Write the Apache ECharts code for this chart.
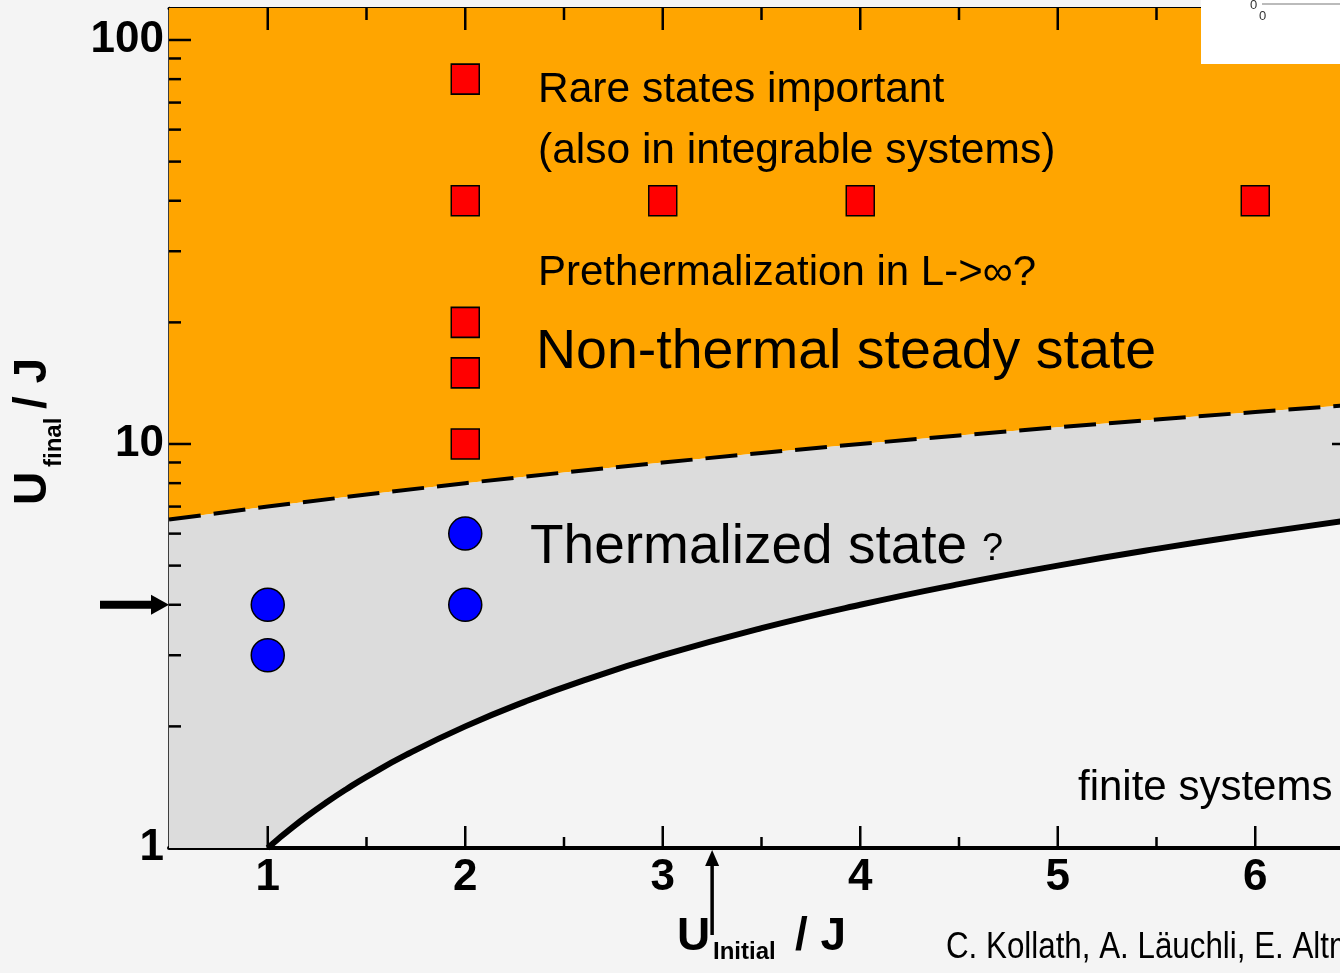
<!DOCTYPE html>
<html>
<head>
<meta charset="utf-8">
<script src="https://cdn.jsdelivr.net/npm/echarts@6/dist/echarts.min.js"></script>
<style>
html,body{margin:0;padding:0;background:#f4f4f4;}
#chart{width:1340px;height:973px;}
</style>
</head>
<body>
<div id="chart"></div>
<script>
// ---- data ----
const xRange = [0.5, 6.5];
const yRange = [1, 120];
const xTickLabels = [1, 2, 3, 4, 5, 6];
const yTickLabels = [1, 10, 100];
const xMajorTicks = [1, 2, 3, 4, 5, 6];
const xMinorTicks = [1.5, 2.5, 3.5, 4.5, 5.5, 6.5];
const yMajorTicks = [10, 100];
const yMinorTicks = [2, 3, 4, 5, 6, 7, 8, 9, 20, 30, 40, 50, 60, 70, 80, 90];
// boundary between non-thermal and thermalized (dashed)
const dashedX = [0.5, 1, 1.5, 2, 2.5, 3, 3.5, 4, 4.5, 5, 5.5, 6, 6.5];
const dashedY = [6.5, 7, 7.5, 8, 8.5, 9, 9.5, 10, 10.5, 11, 11.5, 12, 12.5];
// lower boundary (solid)
const solidX = [1, 1.05, 1.1, 1.2, 1.3, 1.4, 1.5, 1.7, 2, 2.3, 2.6, 3, 3.5, 4, 4.5, 5, 5.5, 6, 6.5];
const solidY = [1, 1.05, 1.1, 1.2, 1.3, 1.4, 1.5, 1.7, 2, 2.3, 2.6, 3, 3.5, 4, 4.5, 5, 5.5, 6, 6.5];
// non-thermal points (red squares)
const redX = [2, 2, 3, 4, 6, 2, 2, 2];
const redY = [80, 40, 40, 40, 40, 20, 15, 10];
// thermalized points (blue circles)
const blueX = [1, 1, 2, 2];
const blueY = [4, 3, 6, 4];
// arrows
const arrowY = 4;      // U_final marker
const arrowX = 3.25;   // U_initial marker

const chart = echarts.init(document.getElementById('chart'), null, {renderer: 'canvas'});

function isPow10(v) {
  const l = Math.log10(v);
  return Math.abs(l - Math.round(l)) < 1e-6 && yTickLabels.indexOf(Math.round(Math.pow(10, Math.round(l)))) >= 0;
}

function tickSeries(values, side, len) {
  return {
    type: 'custom',
    coordinateSystem: 'cartesian2d',
    silent: true,
    z: 6,
    data: values.map(v => [v]),
    renderItem: function (params, api) {
      const v = values[params.dataIndex];
      let p1, p2;
      if (side === 'left') { p1 = api.coord([xRange[0], v]); p2 = [p1[0] + len, p1[1]]; }
      else if (side === 'right') { p1 = api.coord([xRange[1], v]); p2 = [p1[0] - len, p1[1]]; }
      else if (side === 'bottom') { p1 = api.coord([v, yRange[0]]); p2 = [p1[0], p1[1] - len]; }
      else { p1 = api.coord([v, yRange[1]]); p2 = [p1[0], p1[1] + len]; }
      return {type: 'line', shape: {x1: p1[0], y1: p1[1], x2: p2[0], y2: p2[1]},
              style: {stroke: '#000', lineWidth: 2.5}};
    }
  };
}

const regionSeries = {
  type: 'custom',
  coordinateSystem: 'cartesian2d',
  silent: true,
  z: 1,
  data: [[xRange[0], yRange[0]]],
  renderItem: function (params, api) {
    const dashed = dashedX.map((x, i) => api.coord([x, dashedY[i]]));
    const solid = solidX.map((x, i) => api.coord([x, solidY[i]]));
    const orangePts = [api.coord([xRange[0], yRange[1]]), api.coord([xRange[1], yRange[1]])]
      .concat(dashed.slice().reverse());
    const grayPts = dashed.concat(solid.slice().reverse()).concat([api.coord([xRange[0], yRange[0]])]);
    return {type: 'group', children: [
      {type: 'polygon', shape: {points: orangePts}, style: {fill: '#ffa500'}},
      {type: 'polygon', shape: {points: grayPts}, style: {fill: '#dcdcdc'}}
    ]};
  }
};

const option = {
  animation: false,
  backgroundColor: '#f4f4f4',
  grid: {left: 169, top: 8, width: 1185, height: 840, outerBoundsMode: 'none', containLabel: false},
  xAxis: [{
    type: 'value', min: xRange[0], max: xRange[1], interval: 0.5,
    axisLine: {lineStyle: {color: '#000', width: 4}},
    axisTick: {show: false}, splitLine: {show: false},
    axisLabel: {
      formatter: v => (xTickLabels.indexOf(v) >= 0 ? String(v) : ''),
      color: '#000', fontSize: 44, fontWeight: 'bold', fontFamily: 'Liberation Sans', margin: 8
    }
  }, {
    type: 'value', position: 'top', min: xRange[0], max: xRange[1], interval: 0.5,
    axisLine: {lineStyle: {color: '#000', width: 3}},
    axisTick: {show: false}, splitLine: {show: false}, axisLabel: {show: false}
  }],
  yAxis: [{
    type: 'log', logBase: 10, min: yRange[0], max: yRange[1],
    axisLine: {lineStyle: {color: '#000', width: 2.5}},
    axisTick: {show: false}, splitLine: {show: false}, minorTick: {show: false},
    axisLabel: {
      formatter: v => (isPow10(v) ? String(Math.round(v)) : ''),
      color: '#000', fontSize: 44, fontWeight: 'bold', fontFamily: 'Liberation Sans', margin: 5,
      showMinLabel: true, showMaxLabel: true
    }
  }],
  series: [
    regionSeries,
    {
      type: 'line', z: 3, symbol: 'none', smooth: false,
      data: dashedX.map((x, i) => [x, dashedY[i]]),
      lineStyle: {color: '#000', width: 4, type: [32, 13]}
    },
    {
      type: 'line', z: 3, symbol: 'none', smooth: true,
      data: solidX.map((x, i) => [x, solidY[i]]),
      lineStyle: {color: '#000', width: 6}
    },
    {
      type: 'scatter', z: 5, symbol: 'rect', symbolSize: [28, 30],
      data: redX.map((x, i) => [x, redY[i]]),
      itemStyle: {color: '#ff0000', borderColor: '#000', borderWidth: 1.5, opacity: 1}
    },
    {
      type: 'scatter', z: 5, symbol: 'circle', symbolSize: 33,
      data: blueX.map((x, i) => [x, blueY[i]]),
      itemStyle: {color: '#0000ff', borderColor: '#000', borderWidth: 1.5, opacity: 1}
    },
    tickSeries(yMajorTicks, 'left', 22),
    tickSeries(yMinorTicks, 'left', 12),
    tickSeries(yMajorTicks, 'right', 22),
    tickSeries(yMinorTicks, 'right', 12),
    tickSeries(xMajorTicks, 'bottom', 22),
    tickSeries(xMinorTicks, 'bottom', 11),
    tickSeries(xMajorTicks, 'top', 22),
    tickSeries(xMinorTicks, 'top', 12)
  ]
};
chart.setOption(option);

const F = 'Liberation Sans';
const pY = chart.convertToPixel({xAxisIndex: 0, yAxisIndex: 0}, [xRange[0], arrowY]);
const pX = chart.convertToPixel({xAxisIndex: 0, yAxisIndex: 0}, [arrowX, yRange[0]]);

const graphics = [
  // inset fragment top-right
  {type: 'rect', shape: {x: 1201, y: 0, width: 139, height: 64}, style: {fill: '#ffffff'}, z: 50},
  {type: 'line', shape: {x1: 1262, y1: 4, x2: 1340, y2: 4}, style: {stroke: '#bbbbbb', lineWidth: 2}, z: 51},
  {type: 'text', style: {x: 1250, y: 5, text: '0', font: '13px ' + F, fill: '#333', textVerticalAlign: 'middle'}, z: 51},
  {type: 'text', style: {x: 1259, y: 16, text: '0', font: '13px ' + F, fill: '#333', textVerticalAlign: 'middle'}, z: 51},
  // annotations
  {type: 'text', z: 20, style: {x: 538, y: 90, text: 'Rare states important', font: '42.5px ' + F, fill: '#000', textVerticalAlign: 'middle'}},
  {type: 'text', z: 20, style: {x: 538, y: 151, text: '(also in integrable systems)', font: '42.5px ' + F, fill: '#000', textVerticalAlign: 'middle'}},
  {type: 'text', z: 20, style: {x: 538, y: 273, text: 'Prethermalization in L->∞?', font: '42px ' + F, fill: '#000', textVerticalAlign: 'middle'}},
  {type: 'text', z: 20, style: {x: 536, y: 353, text: 'Non-thermal steady state', font: '55.5px ' + F, fill: '#000', textVerticalAlign: 'middle'}},
  {type: 'text', z: 20, style: {x: 530, y: 548, text: 'Thermalized state', font: '55px ' + F, fill: '#000', textVerticalAlign: 'middle'}},
  {type: 'text', z: 20, style: {x: 982, y: 550, text: '?', font: '38px ' + F, fill: '#000', textVerticalAlign: 'middle'}},
  {type: 'text', z: 20, style: {x: 1078, y: 788, text: 'finite systems', font: '42px ' + F, fill: '#000', textVerticalAlign: 'middle'}},
  {type: 'group', x: 946, y: 948, scaleX: 0.87, z: 20, children: [
    {type: 'text', style: {x: 0, y: 0, text: 'C. Kollath, A. Läuchli, E. Altman', font: '36px ' + F, fill: '#000', textVerticalAlign: 'middle'}}
  ]},
  // x axis title
  {type: 'text', z: 20, style: {x: 677, y: 960, text: 'U', font: 'bold 46px ' + F, fill: '#000', textVerticalAlign: 'bottom'}},
  {type: 'text', z: 20, style: {x: 713, y: 940, text: 'Initial', font: 'bold 24px ' + F, fill: '#000', textVerticalAlign: 'top'}},
  {type: 'text', z: 20, style: {x: 795, y: 960, text: '/ J', font: 'bold 46px ' + F, fill: '#000', textVerticalAlign: 'bottom'}},
  // y axis title (rotated)
  {type: 'group', x: 56, y: 505, rotation: Math.PI / 2, z: 20, children: [
    {type: 'text', style: {x: 0, y: 0, text: 'U', font: 'bold 46px ' + F, fill: '#000', textVerticalAlign: 'bottom'}},
    {type: 'text', style: {x: 38, y: -14, text: 'final', font: 'bold 24px ' + F, fill: '#000', textVerticalAlign: 'top'}},
    {type: 'text', style: {x: 96, y: 0, text: '/ J', font: 'bold 46px ' + F, fill: '#000', textVerticalAlign: 'bottom'}}
  ]},
  // left arrow at U_final marker
  {type: 'line', z: 20, shape: {x1: 100, y1: pY[1], x2: pY[0] - 12, y2: pY[1]}, style: {stroke: '#000', lineWidth: 8}},
  {type: 'polygon', z: 20, shape: {points: [[pY[0] - 18, pY[1] - 10], [pY[0], pY[1]], [pY[0] - 18, pY[1] + 10]]}, style: {fill: '#000'}},
  // bottom arrow at U_initial marker
  {type: 'line', z: 20, shape: {x1: pX[0], y1: 935, x2: pX[0], y2: pX[1] + 12}, style: {stroke: '#000', lineWidth: 3.5}},
  {type: 'polygon', z: 20, shape: {points: [[pX[0] - 7, pX[1] + 18], [pX[0], pX[1] + 2], [pX[0] + 7, pX[1] + 18]]}, style: {fill: '#000'}}
];
chart.setOption({graphic: graphics});
</script>
</body>
</html>
